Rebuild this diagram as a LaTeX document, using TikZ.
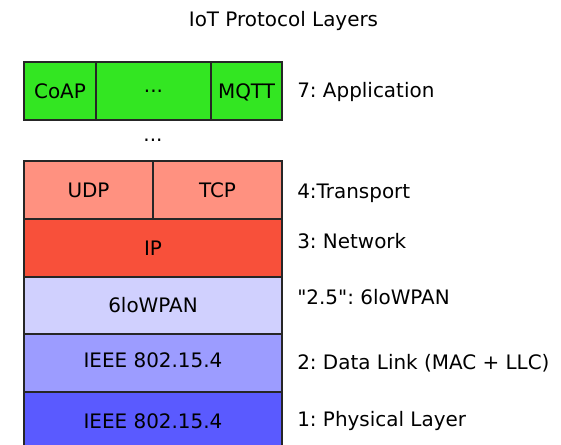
\documentclass[tikz,border=0pt]{standalone}
\usepackage{fontspec}
\setmainfont{DejaVu Sans}[Ligatures=TeXOff]
\definecolor{appgreen}{HTML}{33E622}
\definecolor{transp}{HTML}{FF9180}
\definecolor{netred}{HTML}{F8503A}
\definecolor{lowpan}{HTML}{D0D0FE}
\definecolor{linkblue}{HTML}{9C9CFF}
\definecolor{phyblue}{HTML}{5A5AFF}
\begin{document}
\frenchspacing
\begin{tikzpicture}[x=0.75pt,y=-0.75pt,
  every node/.style={font=\fontsize{14.95pt}{18pt}\selectfont\frenchspacing, text=black},
  layer/.style={draw=black!85, line width=1.2pt, anchor=north west, inner sep=0pt, outer sep=0pt,
    minimum height=43.5pt, text height=10.9pt, text depth=0pt},
  lbl/.style={anchor=base west, inner sep=0pt}]
\useasboundingbox (0,0) rectangle (561,445);
\clip (0,0) rectangle (561,445);
% title
\node[anchor=base, inner sep=0pt] (title) at (283.5,26.7) {IoT Protocol Layers};
% application
\node[layer, fill=appgreen, minimum width=54pt] (coap) at (24,62) {CoAP};
\node[layer, fill=appgreen, minimum width=86.25pt] (appdots) at (96,62) {\raisebox{4.5pt}{...}};
\node[layer, fill=appgreen, minimum width=53.25pt] (mqtt) at (211,62) {MQTT};
\node[anchor=base, inner sep=0pt] (middots) at (153,141.7) {...};
% transport
\node[layer, fill=transp, minimum width=96.75pt] (udp) at (24,161) {UDP};
\node[layer, fill=transp, minimum width=96.75pt] (tcp) at (153,161) {TCP};
% network
\node[layer, fill=netred, minimum width=193.5pt] (ip) at (24,219) {IP};
% 6lowpan
\node[layer, fill=lowpan, minimum width=193.5pt, minimum height=42.75pt] (sixlo) at (24,277) {6loWPAN};
% data link
\node[layer, fill=linkblue, minimum width=193.5pt] (mac) at (24,334) {\raisebox{2.25pt}{IEEE 802.15.4}};
% physical
\node[layer, fill=phyblue, minimum width=193.5pt] (phy) at (24,392) {IEEE 802.15.4};
% labels
\node[lbl] (l7) at (297,97.7) {7: Application};
\node[lbl] (l4) at (297,198.3) {4:Transport};
\node[lbl] (l3) at (297,248.3) {3: Network};
\node[lbl] (l25) at (297,305) {"2.5": 6loWPAN};
\node[lbl] (l2) at (297,370) {2: Data Link (MAC + LLC)};
\node[lbl] (l1) at (297,427) {1: Physical Layer};
\end{tikzpicture}
\end{document}
